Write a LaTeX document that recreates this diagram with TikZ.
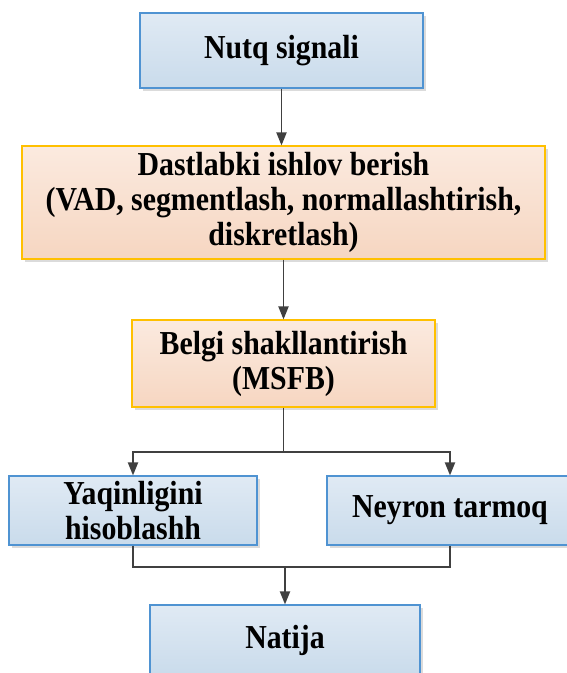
\documentclass[tikz,border=0pt]{standalone}
\usepackage{fontspec}
\setmainfont{Liberation Serif}[FakeStretch=0.89]
\usetikzlibrary{arrows.meta,shadows}

\definecolor{blueTop}{HTML}{E0EAF4}
\definecolor{blueBot}{HTML}{C9DBEB}
\definecolor{blueLine}{HTML}{4F93D2}
\definecolor{peachTop}{HTML}{FBEADF}
\definecolor{peachBot}{HTML}{F6D6C1}
\definecolor{goldLine}{HTML}{FFC000}
\definecolor{wire}{HTML}{404040}

\tikzset{
  box/.style={rectangle, inner sep=0pt, align=center, line width=1.1pt,
    font=\fontsize{33.5}{35}\selectfont\bfseries,
    drop shadow={shadow xshift=3pt, shadow yshift=-3pt, fill=black!14, opacity=1}},
  bluebox/.style={box, draw=blueLine, top color=blueTop, bottom color=blueBot},
  peachbox/.style={box, draw=goldLine, top color=peachTop, bottom color=peachBot},
  link/.style={draw=wire, line width=1.9pt},
  flow/.style={link, -{Triangle[length=13pt, width=10pt]}}
}

\begin{document}
\begin{tikzpicture}[x=1pt, y=-1pt]
  \useasboundingbox (0,0) rectangle (567,673);
  \clip (0,0) rectangle (567,673);

  % processing stages
  \node[bluebox, minimum width=283pt, minimum height=75pt] (nutq) at (281.5,50.5) {Nutq signali};
  \node[peachbox, minimum width=523pt, minimum height=113pt] (dast) at (283.5,202.5)
    {Dastlabki ishlov berish\\(VAD, segmentlash, normallashtirish,\\diskretlash)};
  \node[peachbox, minimum width=303pt, minimum height=87pt] (belgi) at (283.5,363.5)
    {Belgi shakllantirish\\(MSFB)};
  \node[bluebox, minimum width=248pt, minimum height=69pt] (yaq) at (133,510.5)
    {Yaqinligini\\hisoblashh};
  \node[bluebox, minimum width=246pt, minimum height=69pt] (ney) at (450,510.5) {Neyron tarmoq};
  \node[bluebox, minimum width=270pt, minimum height=70pt] (nat) at (285,640) {Natija};

  % branch and merge points
  \coordinate (split) at (belgi.south |- 0,452);
  \coordinate (merge) at (nat.north |- 0,567);

  % connectors
  \draw[flow] (nutq.south) -- (nutq.south |- dast.north);
  \draw[flow] (dast.south) -- (dast.south |- belgi.north);
  \draw[link] (belgi.south) -- (split);
  \draw[flow] (split) -| (yaq.north);
  \draw[flow] (split) -| (ney.north);
  \draw[link] (yaq.south) |- (merge);
  \draw[link] (ney.south) |- (merge);
  \draw[flow] (merge) -- (nat.north);
\end{tikzpicture}
\end{document}
